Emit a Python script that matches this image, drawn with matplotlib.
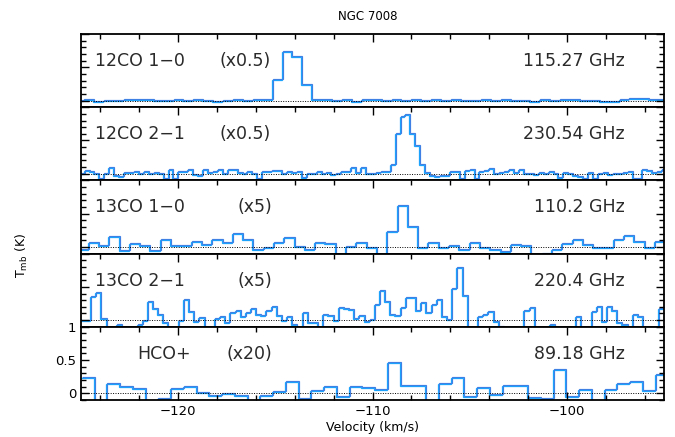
import numpy as np
import matplotlib
matplotlib.use('Agg')
import matplotlib.pyplot as plt
from matplotlib.ticker import MultipleLocator
from matplotlib.transforms import offset_copy

plt.rcParams['font.family'] = 'DejaVu Sans'

# spectra: first channel edge (km/s), channel width (km/s), Tmb (scaled)
co10_v0, co10_dv = -125.39, 0.51
co10 = [0.0, 0.005, -0.02, 0.0, 0.0, 0.005, 0.01, 0.01, 0.0, 0.0,
        0.005, 0.0, 0.005, 0.0, -0.02, 0.0, 0.005, 0.0, 0.01, 0.015,
        0.31, 0.73, 0.65, 0.23, 0.01, 0.005, 0.0, 0.005, -0.02, 0.01,
        0.005, 0.0, 0.005, 0.0, 0.005, 0.0, 0.015, 0.0, 0.005, 0.0,
        0.0, 0.005, 0.0, 0.005, 0.0, 0.0, -0.02, 0.01, 0.0, 0.005,
        0.01, 0.0, 0.0, -0.015, -0.015, 0.01, 0.025, 0.025, 0.01, 0.01]

co21_v0, co21_dv = -125.12, 0.254
co21 = [-0.01, 0.045, 0.025, 0.0, -0.08, 0.0, 0.08, -0.03, -0.05, 0.01,
        0.01, 0.025, 0.0, 0.02, -0.01, 0.01, -0.01, -0.075, 0.05, -0.075,
        0.02, 0.03, 0.05, -0.015, -0.03, 0.06, 0.01, 0.03, 0.05, 0.0,
        0.06, 0.06, 0.01, -0.005, 0.02, -0.01, -0.08, 0.02, 0.025, 0.035,
        0.035, -0.01, 0.03, 0.01, 0.025, -0.07, -0.01, -0.005, 0.025, -0.01,
        0.01, -0.025, -0.005, 0.025, 0.03, 0.08, 0.01, 0.08, -0.005, -0.005,
        0.015, 0.025, 0.025, 0.13, 0.59, 0.85, 0.89, 0.60, 0.41, 0.13,
        0.01, -0.03, -0.05, -0.03, -0.04, 0.03, 0.02, -0.08, 0.035, 0.05,
        -0.08, 0.025, 0.035, 0.065, 0.0, 0.01, 0.02, 0.06, 0.01, 0.05,
        -0.01, -0.01, -0.02, 0.01, -0.005, 0.02, -0.01, -0.065, 0.01, -0.01,
        -0.03, -0.05, -0.08, 0.01, -0.08, 0.0, 0.01, -0.02, -0.01, -0.005,
        0.01, 0.03, -0.08, -0.08, 0.05, 0.035, 0.01, 0.03, 0.05]

c13o10_v0, c13o10_dv = -125.19, 0.53
c13o10 = [-0.04, 0.06, 0.01, 0.15, -0.06, 0.045, 0.01, -0.06, 0.11, 0.01,
          0.01, 0.07, 0.03, 0.105, 0.06, 0.195, 0.10, -0.04, -0.02, 0.06,
          0.14, 0.0, -0.05, 0.055, 0.04, -0.12, 0.005, 0.06, -0.01, -0.12,
          0.225, 0.61, 0.30, -0.02, 0.055, -0.02, 0.01, -0.04, 0.06, -0.02,
          -0.04, -0.075, 0.03, 0.01, -0.12, -0.1, -0.04, 0.045, 0.11, 0.035,
          -0.01, -0.01, 0.10, 0.16, 0.07, -0.02, 0.08]

c13o21_v0, c13o21_dv = -125.33, 0.2655
c13o21 = [0.0, -0.01, -0.01, 0.345, 0.405, 0.015, -0.12, -0.12, -0.07, -0.12,
          -0.12, -0.12, -0.08, -0.02, 0.28, 0.17, 0.07, -0.04, -0.12, -0.12,
          -0.02, 0.305, 0.12, -0.03, 0.03, -0.12, -0.12, 0.02, 0.04, -0.045,
          0.105, 0.13, 0.04, 0.10, 0.17, 0.07, 0.055, 0.13, 0.205, 0.055,
          -0.01, 0.045, -0.08, -0.12, 0.105, -0.05, -0.05, -0.12, 0.075, 0.065,
          -0.02, 0.18, 0.165, 0.155, 0.02, 0.055, -0.035, 0.0, 0.23, 0.445,
          0.28, 0.07, 0.065, 0.18, 0.34, 0.34, 0.13, 0.265, 0.105, 0.23,
          0.30, 0.05, 0.0, 0.47, 0.78, 0.37, -0.12, -0.12, 0.045, 0.07,
          0.12, -0.035, -0.1, -0.12, -0.12, -0.12, -0.12, 0.13, 0.19, -0.12,
          -0.12, -0.12, -0.08, -0.12, -0.12, -0.12, -0.12, 0.04, -0.12, -0.12,
          0.12, 0.205, -0.035, 0.205, 0.14, -0.045, -0.08, -0.12, 0.07, 0.04,
          -0.12, -0.12, -0.12, 0.17, 0.17]

hco_v0, hco_dv = -125.0, 0.656
hco = [0.225, -0.12, 0.135, 0.09, 0.06, -0.12, -0.09, 0.06, 0.095, 0.0,
       -0.04, -0.01, -0.04, -0.12, -0.035, 0.015, 0.165, -0.08, 0.04, 0.10,
       -0.06, 0.10, 0.075, 0.05, 0.46, 0.11, 0.11, -0.12, 0.14, 0.235,
       -0.05, 0.08, -0.025, 0.11, 0.11, -0.065, -0.09, 0.35, -0.06, 0.055,
       -0.12, 0.05, 0.14, 0.175, 0.04, 0.275]

names = ['12CO 1\u22120', '12CO 2\u22121', '13CO 1\u22120', '13CO 2\u22121', 'HCO+']
scales = ['(x0.5)', '(x0.5)', '(x5)', '(x5)', '(x20)']
freqs = ['115.27 GHz', '230.54 GHz', '110.2 GHz', '220.4 GHz', '89.18 GHz']
spectra = [(co10_v0, co10_dv, co10), (co21_v0, co21_dv, co21),
           (c13o10_v0, c13o10_dv, c13o10), (c13o21_v0, c13o21_dv, c13o21),
           (hco_v0, hco_dv, hco)]
name_x = [0.024, 0.024, 0.024, 0.024, 0.096]
scale_x = [0.238, 0.238, 0.269, 0.269, 0.25]

light = '#1aa6ff'
dark = '#3f80e4'

fig, axes = plt.subplots(5, 1, figsize=(6.75, 4.37), dpi=100, sharex=True)
fig.subplots_adjust(left=81/675, right=664/675, top=1-34/437, bottom=1-400/437,
                    hspace=0)

for k, ax in enumerate(axes):
    v0, dv, t = spectra[k]
    t = np.array(t)
    edges = v0 + dv * np.arange(len(t) + 1)
    # two-tone look: light line plus a slightly shifted darker copy
    shifted = offset_copy(ax.transData, fig=fig, x=1.0, y=1.0, units='dots')
    ax.stairs(t, edges, baseline=None, color=light, lw=0.9)
    ax.stairs(t, edges, baseline=None, color=dark, lw=0.85, transform=shifted)
    ax.axhline(0, color='black', ls=(0, (1, 1.5)), lw=0.7)

    ax.set_xlim(-125, -95)
    ax.set_ylim(-0.1, 1.0)
    ax.xaxis.set_major_locator(MultipleLocator(10))
    ax.xaxis.set_minor_locator(MultipleLocator(2))
    ax.yaxis.set_major_locator(MultipleLocator(0.5))
    ax.yaxis.set_minor_locator(MultipleLocator(0.1))
    last = k == len(axes) - 1
    ax.tick_params(which='both', direction='in', top=True, right=True,
                   bottom=last, width=1.0, labelsize=9.5)
    ax.tick_params(which='major', length=6)
    ax.tick_params(which='minor', length=3.5)
    if not last:
        ax.tick_params(labelleft=False)
    for s in ax.spines.values():
        s.set_linewidth(1.3)

    ax.text(name_x[k], 0.63, names[k], transform=ax.transAxes, fontsize=12.5,
            va='center', ha='left', color='#2a2a2a')
    ax.text(scale_x[k], 0.63, scales[k], transform=ax.transAxes, fontsize=12.5,
            va='center', ha='left', color='#2a2a2a')
    ax.text(0.933, 0.63, freqs[k], transform=ax.transAxes, fontsize=12.5,
            va='center', ha='right', color='#2a2a2a')

axes[-1].set_yticks([0, 0.5, 1])
axes[-1].set_yticklabels(['0', '0.5', '1'])
axes[-1].set_xlabel('Velocity (km/s)', fontsize=9, labelpad=2)
fig.text(0.033, 0.416, r'T$_{\rm mb}$ (K)', rotation=90, fontsize=9,
         ha='center', va='center')
fig.text(0.545, 0.963, 'NGC 7008', fontsize=8.5, ha='center', va='center')

fig.savefig('out.png', dpi=100)
